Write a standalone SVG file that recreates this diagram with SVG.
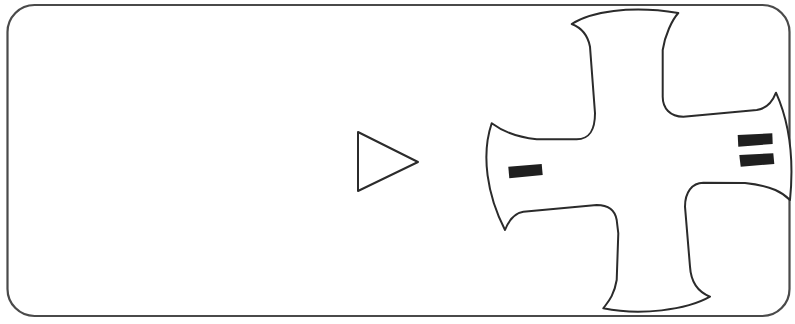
<svg xmlns="http://www.w3.org/2000/svg" width="795" height="324" viewBox="0 0 795 324">
<style>
.ln{fill:#fff;stroke:#2b2b2b;stroke-width:2;stroke-linejoin:round}
.bar{fill:#1f1f1f;stroke:none}
</style>
<rect x="0" y="0" width="795" height="324" fill="#fff"/>
<g id="frame"><rect x="7.5" y="5" width="782" height="311" rx="27" fill="#fff" stroke="#4a4a4a" stroke-width="2.2"/></g>
<g id="triangle"><polygon class="ln" points="358,132 358,191 418,162"/></g>
<g id="cross">
<path class="ln" d="M571.7,24 C590,12 630,5 678.3,13 C672,20 665,35 662.7,50 L662.7,96.7 C662.7,108 670,116.7 683.3,116.7 L756.7,110 C765,109 772,103 776,92.7 C786,115 795,150 790,200 C783,193 773,186 745,183 L703.3,182.7 C692,183 685,192 685,206.7 L690,266.7 C691,283 698,292 710,296.7 C686.7,310 640,316 603.3,308.3 C608,302 614,296 616.7,280 L618.3,233.3 L616.7,220 C615,210 608,205 596.7,205 L523.3,211.7 C515,213 509,220 505,230 C487,195 481,155 491.7,123.3 C502,131 515,137 536.7,139.3 L576.7,139.3 C590,139 595,130 595,113.3 L590,46.7 C588,36 582,28 571.7,24 Z"/>
<polygon class="bar" points="508.3,166.7 541.7,164 542.7,175 509.3,178.3"/>
<polygon class="bar" points="737.7,135 772.3,133.3 772.7,144 738.3,146.7"/>
<polygon class="bar" points="739.3,155 773.3,153.3 774.3,164 740.7,166.7"/>
</g>
</svg>
